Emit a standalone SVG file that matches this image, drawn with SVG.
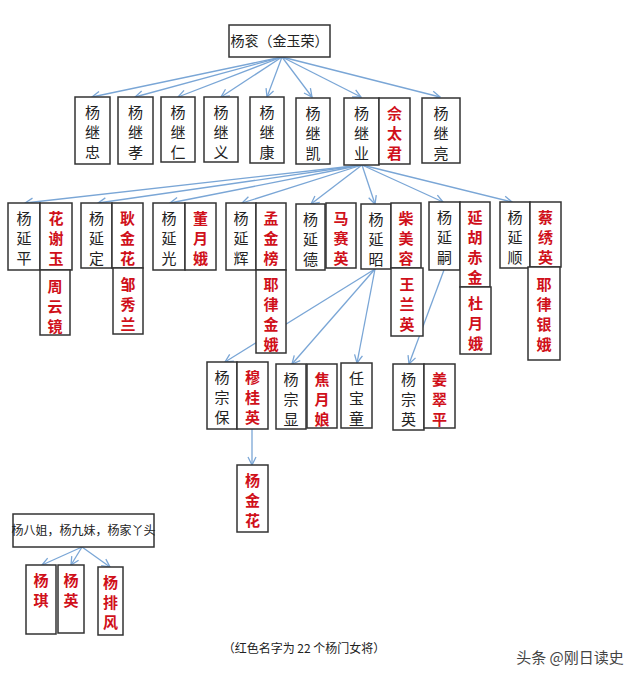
<svg xmlns="http://www.w3.org/2000/svg" width="640" height="681" viewBox="0 0 640 681">
<style>
rect{fill:#fff;stroke:#333;stroke-width:1.5}
text{font-family:"Noto Sans CJK SC","Liberation Sans",sans-serif;font-size:15px;text-anchor:middle}
.k{fill:#222}
.r{fill:#d0101a;font-weight:bold}
#c line{stroke:#7aa6d6;stroke-width:1.3;marker-end:url(#a)}
</style>
<defs><marker id="a" markerWidth="10" markerHeight="10" refX="9" refY="5" orient="auto" markerUnits="userSpaceOnUse"><path d="M1,1 L9,5 L1,9" fill="none" stroke="#7aa6d6" stroke-width="1.3"/></marker></defs>
<rect width="640" height="681" style="stroke:none"/>
<g id="c">
<line x1="282" y1="57" x2="92" y2="97"/><line x1="282" y1="57" x2="135" y2="97"/><line x1="282" y1="57" x2="178" y2="97"/><line x1="282" y1="57" x2="221" y2="97"/><line x1="282" y1="57" x2="267" y2="97"/><line x1="282" y1="57" x2="312" y2="97"/><line x1="282" y1="57" x2="361" y2="97"/><line x1="282" y1="57" x2="440" y2="97"/>
<line x1="362" y1="165" x2="25" y2="203"/><line x1="362" y1="165" x2="98" y2="203"/><line x1="362" y1="165" x2="170" y2="203"/><line x1="362" y1="165" x2="242" y2="203"/><line x1="362" y1="165" x2="311" y2="204"/><line x1="362" y1="165" x2="375" y2="204"/><line x1="362" y1="165" x2="443" y2="202"/><line x1="362" y1="165" x2="512" y2="202"/>
<line x1="375" y1="269" x2="225" y2="362"/><line x1="375" y1="269" x2="292" y2="364"/><line x1="375" y1="269" x2="357" y2="363"/><line x1="444" y1="270" x2="409" y2="364"/>
<line x1="252" y1="429" x2="252" y2="465"/>
<line x1="82" y1="547" x2="42" y2="565"/><line x1="82" y1="547" x2="71" y2="565"/><line x1="82" y1="547" x2="110" y2="567"/>
</g>
<g id="root"><rect x="229" y="25" width="101" height="32"/><text class="k" x="279.5" y="46" style="font-size:14px">杨衮（金玉荣）</text></g>
<g id="l2">
<g id="jz"><rect x="75" y="97" width="35" height="67"/><text class="k" x="92.5" y="118">杨</text><text class="k" x="92.5" y="138">继</text><text class="k" x="92.5" y="158">忠</text></g>
<g id="jx"><rect x="118" y="97" width="35" height="67"/><text class="k" x="135.5" y="118">杨</text><text class="k" x="135.5" y="138">继</text><text class="k" x="135.5" y="158">孝</text></g>
<g id="jr"><rect x="161" y="97" width="34" height="65"/><text class="k" x="178" y="118">杨</text><text class="k" x="178" y="138">继</text><text class="k" x="178" y="158">仁</text></g>
<g id="jy"><rect x="204" y="97" width="34" height="65"/><text class="k" x="221" y="118">杨</text><text class="k" x="221" y="138">继</text><text class="k" x="221" y="158">义</text></g>
<g id="jk"><rect x="250" y="97" width="34" height="66"/><text class="k" x="267" y="118">杨</text><text class="k" x="267" y="138">继</text><text class="k" x="267" y="158">康</text></g>
<g id="jkai"><rect x="296" y="98" width="34" height="66"/><text class="k" x="313" y="119">杨</text><text class="k" x="313" y="139">继</text><text class="k" x="313" y="159">凯</text></g>
<g id="jye"><rect x="344" y="98" width="35" height="67"/><text class="k" x="361.5" y="119">杨</text><text class="k" x="361.5" y="139">继</text><text class="k" x="361.5" y="159">业</text></g>
<g id="ytj"><rect x="379" y="98" width="31" height="66"/><text class="r" x="394.5" y="119">佘</text><text class="r" x="394.5" y="139">太</text><text class="r" x="394.5" y="159">君</text></g>
<g id="jl"><rect x="422" y="98" width="38" height="65"/><text class="k" x="441" y="119">杨</text><text class="k" x="441" y="139">继</text><text class="k" x="441" y="159">亮</text></g>
</g>
<g id="l3">
<g><rect x="8" y="203" width="32" height="67"/><text class="k" x="24" y="224">杨</text><text class="k" x="24" y="244">延</text><text class="k" x="24" y="264">平</text></g>
<g><rect x="40" y="203" width="32" height="67"/><text class="r" x="56" y="224">花</text><text class="r" x="56" y="244">谢</text><text class="r" x="56" y="264">玉</text></g>
<g><rect x="40" y="270" width="30" height="65"/><text class="r" x="55" y="292">周</text><text class="r" x="55" y="312">云</text><text class="r" x="55" y="332">镜</text></g>
<g><rect x="81" y="203" width="31" height="65"/><text class="k" x="96.5" y="224">杨</text><text class="k" x="96.5" y="244">延</text><text class="k" x="96.5" y="264">定</text></g>
<g><rect x="112" y="203" width="31" height="65"/><text class="r" x="127.5" y="224">耿</text><text class="r" x="127.5" y="244">金</text><text class="r" x="127.5" y="264">花</text></g>
<g><rect x="113" y="268" width="30" height="66"/><text class="r" x="128" y="290">邹</text><text class="r" x="128" y="310">秀</text><text class="r" x="128" y="330">兰</text></g>
<g><rect x="153" y="203" width="32" height="67"/><text class="k" x="169" y="224">杨</text><text class="k" x="169" y="244">延</text><text class="k" x="169" y="264">光</text></g>
<g><rect x="185" y="203" width="31" height="67"/><text class="r" x="200.5" y="224">董</text><text class="r" x="200.5" y="244">月</text><text class="r" x="200.5" y="264">娥</text></g>
<g><rect x="226" y="203" width="30" height="67"/><text class="k" x="241" y="224">杨</text><text class="k" x="241" y="244">延</text><text class="k" x="241" y="264">辉</text></g>
<g><rect x="256" y="203" width="30" height="67"/><text class="r" x="271" y="224">孟</text><text class="r" x="271" y="244">金</text><text class="r" x="271" y="264">榜</text></g>
<g><rect x="256" y="270" width="30" height="83"/><text class="r" x="271" y="290">耶</text><text class="r" x="271" y="310">律</text><text class="r" x="271" y="330">金</text><text class="r" x="271" y="350">娥</text></g>
<g><rect x="296" y="204" width="29" height="66"/><text class="k" x="310.5" y="225">杨</text><text class="k" x="310.5" y="245">延</text><text class="k" x="310.5" y="265">德</text></g>
<g><rect x="326" y="203" width="30" height="65"/><text class="r" x="341" y="224">马</text><text class="r" x="341" y="244">赛</text><text class="r" x="341" y="264">英</text></g>
<g><rect x="361" y="204" width="30" height="65"/><text class="k" x="376" y="225">杨</text><text class="k" x="376" y="245">延</text><text class="k" x="376" y="265">昭</text></g>
<g><rect x="391" y="203" width="30" height="65"/><text class="r" x="406" y="224">柴</text><text class="r" x="406" y="244">美</text><text class="r" x="406" y="264">容</text></g>
<g><rect x="391" y="268" width="32" height="68"/><text class="r" x="407" y="290">王</text><text class="r" x="407" y="310">兰</text><text class="r" x="407" y="330">英</text></g>
<g><rect x="429" y="202" width="31" height="68"/><text class="k" x="444.5" y="223">杨</text><text class="k" x="444.5" y="243">延</text><text class="k" x="444.5" y="263">嗣</text></g>
<g><rect x="460" y="202" width="30" height="85"/><text class="r" x="475" y="223">延</text><text class="r" x="475" y="243">胡</text><text class="r" x="475" y="263">赤</text><text class="r" x="475" y="283">金</text></g>
<g><rect x="460" y="287" width="31" height="67"/><text class="r" x="475.5" y="309">杜</text><text class="r" x="475.5" y="329">月</text><text class="r" x="475.5" y="349">娥</text></g>
<g><rect x="500" y="202" width="30" height="66"/><text class="k" x="515" y="223">杨</text><text class="k" x="515" y="243">延</text><text class="k" x="515" y="263">顺</text></g>
<g><rect x="530" y="202" width="31" height="65"/><text class="r" x="545.5" y="223">蔡</text><text class="r" x="545.5" y="243">绣</text><text class="r" x="545.5" y="263">英</text></g>
<g><rect x="528" y="267" width="32" height="93"/><text class="r" x="544" y="290">耶</text><text class="r" x="544" y="310">律</text><text class="r" x="544" y="330">银</text><text class="r" x="544" y="350">娥</text></g>
</g>
<g id="l4">
<g><rect x="207" y="362" width="30" height="67"/><text class="k" x="222" y="383">杨</text><text class="k" x="222" y="403">宗</text><text class="k" x="222" y="423">保</text></g>
<g><rect x="237" y="362" width="31" height="67"/><text class="r" x="252.5" y="383">穆</text><text class="r" x="252.5" y="403">桂</text><text class="r" x="252.5" y="423">英</text></g>
<g><rect x="276" y="364" width="30" height="65"/><text class="k" x="291" y="385">杨</text><text class="k" x="291" y="405">宗</text><text class="k" x="291" y="425">显</text></g>
<g><rect x="307" y="364" width="30" height="64"/><text class="r" x="322" y="385">焦</text><text class="r" x="322" y="405">月</text><text class="r" x="322" y="425">娘</text></g>
<g><rect x="341" y="363" width="31" height="65"/><text class="k" x="356.5" y="384">任</text><text class="k" x="356.5" y="404">宝</text><text class="k" x="356.5" y="424">童</text></g>
<g><rect x="393" y="364" width="31" height="66"/><text class="k" x="408.5" y="385">杨</text><text class="k" x="408.5" y="405">宗</text><text class="k" x="408.5" y="425">英</text></g>
<g><rect x="424" y="364" width="31" height="64"/><text class="r" x="439.5" y="385">姜</text><text class="r" x="439.5" y="405">翠</text><text class="r" x="439.5" y="425">平</text></g>
<g><rect x="237" y="465" width="31" height="67"/><text class="r" x="252.5" y="486">杨</text><text class="r" x="252.5" y="506">金</text><text class="r" x="252.5" y="526">花</text></g>
</g>
<g id="sis"><rect x="13" y="514" width="141" height="33"/><text class="k" x="83.5" y="535" style="font-size:12px">杨八姐，杨九妹，杨家丫头</text></g>
<g><rect x="26" y="565" width="30" height="69"/><text class="r" x="41" y="586">杨</text><text class="r" x="41" y="606">琪</text></g>
<g><rect x="58" y="565" width="26" height="68"/><text class="r" x="71" y="586">杨</text><text class="r" x="71" y="606">英</text></g>
<g><rect x="98" y="567" width="25" height="68"/><text class="r" x="110.5" y="588">杨</text><text class="r" x="110.5" y="608">排</text><text class="r" x="110.5" y="628">风</text></g>
<text class="k" x="304" y="653" style="font-size:12px">（红色名字为 22 个杨门女将）</text>
<text x="570" y="663" style="font-size:15px;fill:#444">头条 @刚日读史</text>
</svg>
